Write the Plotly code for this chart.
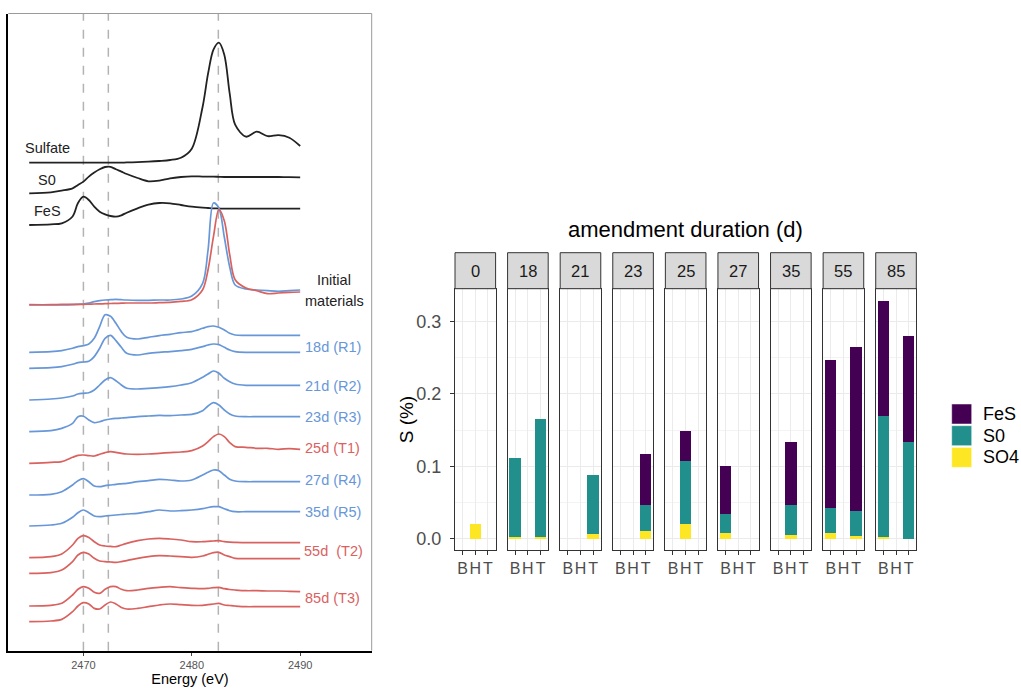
import plotly.graph_objects as go

W, H = 1021, 690

# ---------------- Left panel: XANES spectra (heights above each curve's own baseline) -------------
energy = [2465, 2467, 2468, 2469, 2469.5, 2470, 2470.5, 2471, 2471.5, 2472, 2472.5, 2473, 2473.5, 2474,
          2475, 2476, 2477, 2478, 2479, 2480, 2481, 2481.5, 2482, 2482.5, 2483, 2483.5, 2484,
          2485, 2486, 2487, 2488, 2489, 2490]

sulfate = [0, 0, 0, 0, 0, 0, 0, 0, 0, 0, 0, 0, 0, 0.3, 0.5, 1, 1.7, 2.7, 5, 14,
           56, 89, 113, 120, 108, 69, 38, 26, 31, 26.5, 27.5, 25, 16.7]
s0_ref = [0, 1, 2.7, 5, 8.3, 11.7, 16.7, 20.7, 24, 26.3, 26.5, 24, 21.7, 19.3, 15.3, 12, 12.7, 15, 16.3, 17,
          16.7, 16.7, 16.7, 16.5, 16.3, 16.3, 16.3, 16.3, 16.3, 16.3, 16.3, 16.2, 16]
fes_ref = [0, 0.7, 1.7, 8.5, 22, 28.3, 25, 18.3, 13.3, 10.7, 9, 8.3, 9.7, 12.3, 16.7, 20.3, 22, 21.7, 20, 18.3,
           17.3, 17, 16.7, 16.5, 16.3, 16.3, 16.3, 16.3, 16.3, 16.3, 16.3, 16.3, 16.3]
init_blue = [0, 0, 0, 0.3, 0.7, 1, 2, 3.3, 4.3, 5, 5.3, 5.7, 5.3, 5, 4.7, 4.7, 5, 5, 6, 9,
             21.7, 55, 102, 97, 68, 38, 20, 16, 15, 14.3, 13.7, 14.3, 15]
init_red = [0, 0, 0.3, 0.3, 0.3, 0.3, 0.5, 0.7, 0.8, 1, 1.2, 1.3, 1.5, 1.7, 1.7, 1.7, 2, 2.3, 3.3, 5,
            15, 35, 68, 95, 84, 50, 25, 16.7, 14, 11, 11.7, 12.3, 12.7]
r1a = [0, 0.7, 1.7, 4, 5.7, 6.7, 8.3, 14, 25.7, 37.5, 36, 29, 20.7, 15, 13.3, 15, 16.7, 18, 19.7, 20.7,
       24, 25.7, 26.3, 25, 22.3, 19, 17.3, 17, 17, 17, 17, 17, 17]
r1b = [0, 0.7, 1.7, 4, 5.7, 6.3, 7, 11.7, 20, 30, 33, 27.7, 21, 15, 13.3, 15, 16, 16.7, 17.7, 19,
       21.7, 23.3, 24.3, 23.7, 21, 18.3, 16.7, 16, 16, 16, 16, 16, 16]
r2 = [0, 1, 2, 4, 6, 6.7, 7.3, 10, 15, 20, 22.3, 19.3, 15, 11.7, 11, 11.7, 12.3, 13.3, 15, 17.3,
      22.7, 26, 29, 26.7, 21.7, 18.3, 16, 14.7, 14.7, 14.7, 14.7, 14.7, 14.7]
r3 = [0, 1, 3.3, 8.3, 15, 15.5, 11.7, 9, 10, 11.7, 12.7, 13.3, 13.7, 14, 15, 15.7, 16.3, 16, 16.7, 17.3,
      21, 25.7, 29, 26.7, 21.7, 17.7, 15.7, 15, 15, 15, 15, 15, 15]
t1 = [0, 1, 1.7, 6, 8, 8.3, 7.7, 7.3, 9, 10.7, 11.7, 11, 10, 9.3, 9, 9.3, 10, 10.7, 11.3, 12.7,
      17.3, 21.7, 26.7, 29.3, 26.7, 20.7, 16.7, 16, 15, 15, 14, 14.7, 14]
r4 = [0, 0.7, 3.3, 10, 14.3, 16.3, 13.3, 9, 8.3, 9.3, 10, 10.7, 11.2, 11.7, 13.3, 14.3, 15.7, 15, 14, 15,
      20, 22.7, 25, 24.3, 20, 15.7, 14, 13.3, 13.3, 13.3, 13.3, 13.3, 13.3]
r5 = [0, 1, 2.7, 8.7, 13.3, 16, 13.3, 10, 9.3, 10, 10.5, 11, 11.5, 12, 12.7, 14.3, 16, 15, 15.3, 16,
      17.3, 18.5, 19.3, 19.3, 17.3, 15.3, 14.3, 14.3, 14.3, 14.3, 14.3, 14.3, 14.3]
t2a = [0, 1, 3.7, 12.7, 19.3, 22, 20.3, 16, 12.7, 11.7, 11.3, 11, 12.7, 14.3, 17, 18.7, 19.3, 18.7, 17.7, 16,
       16, 16.3, 16.7, 17, 16, 15.5, 15.3, 15, 15, 15, 15, 15, 15]
t2b = [0, 0.7, 3.3, 11.7, 18.3, 21, 19.3, 15, 12.3, 11.7, 11.3, 11, 11.7, 12.7, 15, 16.7, 17.7, 17.3, 16.7, 16,
       17.3, 19, 20.7, 21, 18.3, 16.7, 15, 14.7, 14.7, 14.7, 14.7, 14.7, 14.7]
t3a = [0, 0.7, 2.7, 11, 16.7, 19.3, 17.7, 13.7, 12.7, 16.7, 19.3, 19.3, 16.7, 15.3, 16, 17.7, 18.7, 19.3, 18.3, 17.7,
       17.3, 17.7, 18.3, 18.7, 17.3, 16.5, 16, 15.3, 15.3, 15, 15, 14.7, 14.3]
t3b = [0, 0.7, 2.3, 10, 15.7, 19, 17.7, 13.3, 12.7, 16.7, 19.7, 17.7, 14.3, 12.7, 13.3, 15, 16.7, 17.7, 17, 16.3,
       16.3, 17, 17.7, 18.3, 16.7, 16.2, 15.7, 15, 15, 15, 15, 15, 15]

spectra = [sulfate, s0_ref, fes_ref, init_blue, init_red, r1a, r1b, r2, r3, t1, r4, r5, t2a, t2b, t3a, t3b]
stack_offsets = [527.3, 496.7, 465, 385, 385.3, 337.7, 321.7, 290, 258.3, 226.7, 195, 164, 132.3, 116.7, 84, 68.3]
groups = ["ref", "ref", "ref", "R", "T", "R", "R", "R", "R", "T", "R", "R", "T", "T", "T", "T"]
ref_energies = [2470.0, 2472.3, 2482.45]

BLACK = "#222222"
BLUE = "#6797d8"
RED = "#d9625f"
group_color = {"ref": BLACK, "R": BLUE, "T": RED}

# labels of the spectra (text, colour group, pixel anchor)
spec_labels = [("Sulfate", "ref", 23, 148, "left"), ("S0", "ref", 36, 180, "left"), ("FeS", "ref", 32, 211, "left"),
               ("Initial", "ref", 334, 280, "center"), ("materials", "ref", 334, 301, "center"),
               ("18d (R1)", "R", 303, 347, "left"), ("21d (R2)", "R", 303, 386, "left"),
               ("23d (R3)", "R", 303, 417, "left"), ("25d (T1)", "T", 303, 448, "left"),
               ("27d (R4)", "R", 303, 480, "left"), ("35d (R5)", "R", 303, 512, "left"),
               ("55d  (T2)", "T", 302, 551, "left"), ("85d (T3)", "T", 303, 598, "left")]

# ---------------- Right panel: stacked bars -------------
durations = ["0", "18", "21", "23", "25", "27", "35", "55", "85"]
positions = ["B", "H", "T"]
rec_duration = ["0", "18", "18", "21", "23", "25", "27", "35", "55", "55", "85", "85"]
rec_position = ["H", "B", "T", "T", "T", "H", "B", "H", "B", "T", "B", "T"]
fes_pct = [0, 0, 0, 0, 0.070, 0.041, 0.066, 0.086, 0.204, 0.226, 0.158, 0.146]
s0_pct = [0, 0.109, 0.162, 0.0815, 0.036, 0.087, 0.026, 0.042, 0.034, 0.034, 0.167, 0.133]
so4_pct = [0.020, 0.003, 0.003, 0.0065, 0.011, 0.021, 0.008, 0.005, 0.008, 0.004, 0.003, 0.0]
species = ["SO4", "S0", "FeS"]
species_vals = {"SO4": so4_pct, "S0": s0_pct, "FeS": fes_pct}
species_color = {"FeS": "#440154", "S0": "#21908C", "SO4": "#FDE725"}
y_ticks = [0, 0.1, 0.2, 0.3]


def px(x):
    return x / W


def py(y):
    return 1 - y / H


FONT = "Liberation Sans, Arial, sans-serif"
fig = go.Figure()

# left spectra
for vals, off, g in zip(spectra, stack_offsets, groups):
    assert len(vals) == len(energy)
    fig.add_trace(go.Scatter(x=energy, y=[off + v for v in vals], mode="lines",
                             line=dict(color=group_color[g], width=1.8 if g == "ref" else 1.7,
                                       shape="spline", smoothing=0.9),
                             xaxis="x", yaxis="y", showlegend=False, hoverinfo="skip"))

layout = dict(
    width=W, height=H, margin=dict(l=0, r=0, t=0, b=0),
    paper_bgcolor="white", plot_bgcolor="white", showlegend=False,
    barmode="stack", bargap=0.1, font=dict(family=FONT),
)
layout["xaxis"] = dict(domain=[px(8.3), px(371.7)], anchor="y", range=[2463.07, 2496.6],
                       tickvals=[2470, 2480, 2490], ticks="outside", ticklen=3, tickcolor="#444",
                       tickfont=dict(size=11, color="#555"), showgrid=False, zeroline=False,
                       showline=True, linecolor="black", linewidth=2,
                       title=dict(text="Energy (eV)", font=dict(size=14.5, color="black"), standoff=3))
layout["yaxis"] = dict(domain=[py(650.7), py(14)], anchor="x", range=[39.3, 676], showgrid=False,
                       zeroline=False, showticklabels=False, ticks="", showline=True,
                       linecolor="black", linewidth=2)

shapes = []
annotations = []
for e in ref_energies:
    shapes.append(dict(type="line", xref="x", yref="y domain", x0=e, x1=e, y0=0, y1=1,
                       line=dict(color="#b3b3b3", width=1.5, dash="dash"), layer="below"))
# top and right frame of the left panel
shapes.append(dict(type="line", xref="paper", yref="paper", x0=px(8.3), x1=px(371.7), y0=py(13.5), y1=py(13.5),
                   line=dict(color="#9a9a9a", width=1)))
shapes.append(dict(type="line", xref="paper", yref="paper", x0=px(371.7), x1=px(371.7), y0=py(13.5), y1=py(650.7),
                   line=dict(color="#9a9a9a", width=1)))

for text, g, x, y, anc in spec_labels:
    annotations.append(dict(text=text, xref="paper", yref="paper", x=px(x), y=py(y), xanchor=anc,
                            yanchor="middle", showarrow=False,
                            font=dict(size=14.5, color=group_color[g], family=FONT)))

# facets
panel_w = 40.6
panel_step = 52.59
panel_left0 = 455
panel_top, panel_bottom = 288.7, 550
strip_top = 252.7
y_range = [-0.0152, 0.3448]
for i, d in enumerate(durations):
    k = i + 2
    x0 = panel_left0 + i * panel_step
    x1 = x0 + panel_w
    xa = dict(domain=[px(x0), px(x1)], anchor=f"y{k}", type="category", categoryorder="array",
              categoryarray=positions, tickvals=positions, range=[-0.6, 2.6], ticks="outside", ticklen=4,
              tickcolor="#333", tickfont=dict(size=16, color="#4d4d4d"), tickangle=0, showgrid=True,
              gridcolor="#ebebeb", gridwidth=1, showline=True, mirror=True, linecolor="#333333",
              linewidth=1, zeroline=False)
    ya = dict(domain=[py(panel_bottom), py(panel_top)], anchor=f"x{k}", range=y_range, tickvals=y_ticks,
              ticktext=[f"{v:.1f}" for v in y_ticks], showgrid=True, gridcolor="#ebebeb", gridwidth=1,
              minor=dict(tick0=0, dtick=0.05, showgrid=True, gridcolor="#f3f3f3", gridwidth=0.6),
              showline=True, mirror=True, linecolor="#333333", linewidth=1, zeroline=False)
    if i == 0:
        ya.update(ticks="outside", ticklen=4, tickcolor="#333", tickfont=dict(size=18, color="#4d4d4d"),
                  ticklabelstandoff=5)
    else:
        ya.update(showticklabels=False, ticks="")
    layout[f"xaxis{k}"] = xa
    layout[f"yaxis{k}"] = ya

    idx = [j for j, rd in enumerate(rec_duration) if rd == d]
    for sp in species:
        fig.add_trace(go.Bar(x=[rec_position[j] for j in idx], y=[species_vals[sp][j] for j in idx],
                             width=0.9, marker=dict(color=species_color[sp], line=dict(width=0)),
                             xaxis=f"x{k}", yaxis=f"y{k}", showlegend=False, hoverinfo="skip"))
    # strip
    shapes.append(dict(type="rect", xref="paper", yref="paper", x0=px(x0), x1=px(x1), y0=py(panel_top),
                       y1=py(strip_top), fillcolor="#d9d9d9", line=dict(color="#333333", width=1)))
    annotations.append(dict(text=d, xref="paper", yref="paper", x=px((x0 + x1) / 2),
                            y=py((panel_top + strip_top) / 2), xanchor="center", yanchor="middle",
                            showarrow=False, font=dict(size=16.5, color="#1a1a1a", family=FONT)))

annotations.append(dict(text="amendment duration (d)", xref="paper", yref="paper", x=px(685.5), y=py(229),
                        xanchor="center", yanchor="middle", showarrow=False,
                        font=dict(size=22, color="black", family=FONT)))
annotations.append(dict(text="S (%)", xref="paper", yref="paper", x=px(406), y=py(419.3), textangle=-90,
                        xanchor="center", yanchor="middle", showarrow=False,
                        font=dict(size=19, color="black", family=FONT)))

# legend (manual keys)
legend_order = ["FeS", "S0", "SO4"]
key_tops = [404, 425.7, 447.4]
for sp, top in zip(legend_order, key_tops):
    shapes.append(dict(type="rect", xref="paper", yref="paper", x0=px(951.7), x1=px(971.7), y0=py(top + 20),
                       y1=py(top), fillcolor=species_color[sp], line=dict(color="white", width=0.5)))
    annotations.append(dict(text=sp, xref="paper", yref="paper", x=px(981), y=py(top + 10), xanchor="left",
                            yanchor="middle", showarrow=False, font=dict(size=18, color="black", family=FONT)))

layout["shapes"] = shapes
layout["annotations"] = annotations
fig.update_layout(**layout)
fig.write_html("out.html", config={"displayModeBar": False},
               post_script="document.body.style.margin='0px';")
